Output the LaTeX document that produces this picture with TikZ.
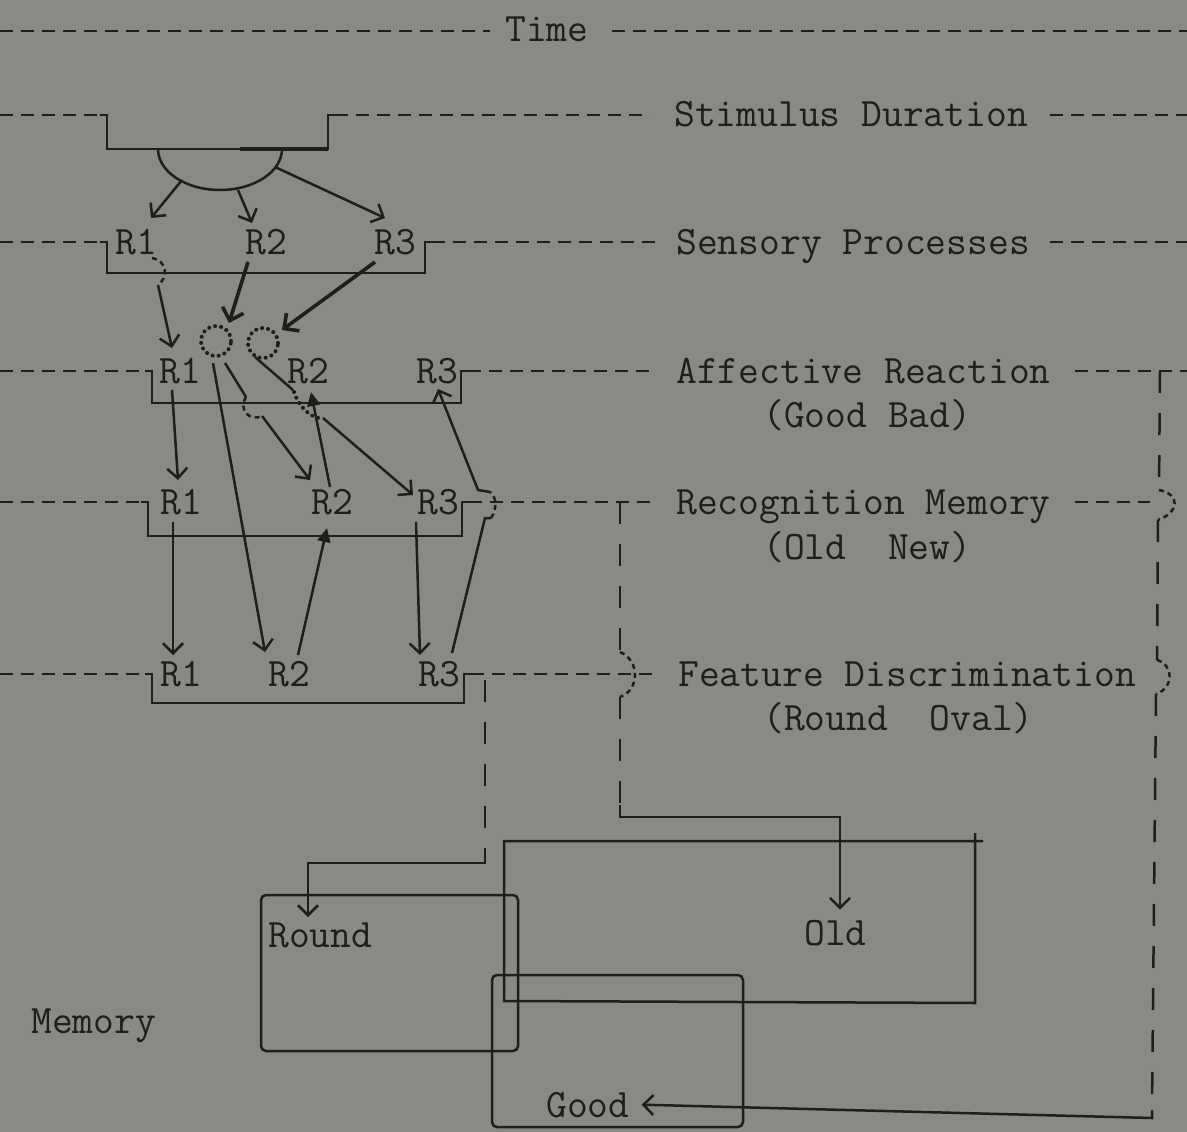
\documentclass[tikz,border=0pt]{standalone}
\usepackage{fontspec}
\usetikzlibrary{arrows.meta}

\definecolor{paper}{RGB}{139,137,133}
\definecolor{inkc}{RGB}{30,30,30}

\tikzset{
  ink/.style={draw=inkc, line width=2.5pt},
  typed/.style={ink, dash pattern=on 13pt off 8pt},
  vtyped/.style={ink, dash pattern=on 22pt off 20pt},
  hop/.style={ink, dash pattern=on 5pt off 4pt},
  dots/.style={ink, line width=4pt, dash pattern=on 0.1pt off 6pt, line cap=round},
  arr/.style={ink, -{Straight Barb[length=10pt,width=20pt]}},
  bigarr/.style={ink, line width=3.6pt, -{Straight Barb[length=11pt,width=22pt]}},
  farr/.style={ink, -{Triangle[length=14pt,width=13pt]}},
  lbl/.style={text=inkc, inner sep=0pt, anchor=base west,
    font=\ttfamily\fontsize{40.4pt}{46pt}\selectfont},
}

\begin{document}
\begin{tikzpicture}[x=1pt,y=-1pt]
  \fill[paper] (0,0) rectangle (1187,1132);
  \useasboundingbox (0,0) rectangle (1187,1132);

  % Time
  \draw[typed] (0,31) -- (490,31);
  \node[lbl] (time) at (505,42) {Time};
  \draw[typed] (612,31) -- (1187,31);

  % Stimulus Duration
  \draw[typed] (0,115) -- (100,115);
  \draw[ink] (100,115) -- (107,115) -- (107,149) -- (328,149) -- (328,115) -- (335,115);
  \draw[ink, line width=3.5pt] (240,149) -- (328,149);
  \draw[typed] (335,115) -- (650,115);
  \node[lbl] (stim) at (674,127) {Stimulus Duration};
  \draw[typed] (1050,115) -- (1187,115);
  \draw[ink] (158,149) arc[start angle=180, end angle=360, x radius=62pt, y radius=41pt];

  % Sensory Processes
  \draw[typed] (0,242) -- (100,242);
  \draw[ink] (100,242) -- (107,242) -- (107,273) -- (425,273) -- (425,242) -- (432,242);
  \draw[typed] (432,242) -- (662,242);
  \node[lbl] (sens) at (676,254) {Sensory Processes};
  \draw[typed] (1050,242) -- (1187,242);
  \node[lbl] (s1) at (115,254) {R1};
  \node[lbl] (s2) at (245,254) {R2};
  \node[lbl] (s3) at (374,254) {R3};

  % Affective Reaction
  \draw[typed] (0,371) -- (145,371);
  \draw[ink] (145,371) -- (152,371) -- (152,403) -- (461,403) -- (461,371) -- (468,371);
  \draw[typed] (468,371) -- (656,371);
  \node[lbl] (aff) at (676,383) {Affective Reaction};
  \node[lbl] (affsub) at (763,427) {(Good Bad)};
  \draw[typed] (1075,371) -- (1187,371);
  \node[lbl] (a1) at (159,383) {R1};
  \node[lbl] (a2) at (287,383) {R2};
  \node[lbl] (a3) at (416,383) {R3};

  % Recognition Memory
  \draw[typed] (0,502) -- (141,502);
  \draw[ink] (141,502) -- (148,502) -- (148,536) -- (462,536) -- (462,502) -- (469,502);
  \draw[typed] (469,502) -- (652,502);
  \node[lbl] (rec) at (676,514) {Recognition Memory};
  \node[lbl] (recsub) at (763,559) {(Old\ \ New)};
  \draw[typed] (1075,502) -- (1150,502);
  \node[lbl] (m1) at (160,514) {R1};
  \node[lbl] (m2) at (311,514) {R2};
  \node[lbl] (m3) at (417,514) {R3};

  % Feature Discrimination
  \draw[typed] (0,674) -- (145,674);
  \draw[ink] (145,674) -- (152,674) -- (152,703) -- (464,703) -- (464,674) -- (471,674);
  \draw[typed] (471,674) -- (652,674);
  \node[lbl] (feat) at (678,686) {Feature Discrimination};
  \node[lbl] (featsub) at (763,730) {(Round\ \ Oval)};
  \node[lbl] (f1) at (160,686) {R1};
  \node[lbl] (f2) at (268,686) {R2};
  \node[lbl] (f3) at (418,686) {R3};

  % memory boxes
  \draw[ink, rounded corners=5pt] (261,895) rectangle (518,1051);
  \draw[ink] (983,841) -- (504,841) -- (504,1001) -- (975,1003) -- (975,833);
  \draw[ink, rounded corners=5pt] (492,975) rectangle (743,1127);
  \node[lbl] (round) at (268,947) {Round};
  \node[lbl] (old) at (804,945) {Old};
  \node[lbl] (good) at (546,1117) {Good};
  \node[lbl] (memory) at (31,1033) {Memory};

  % dotted relay circles
  \node[circle, dots, minimum size=30pt, inner sep=0pt] (c1) at (216,341) {};
  \node[circle, dots, minimum size=30pt, inner sep=0pt] (c2) at (263,343) {};

  % connector ends
  \coordinate (semi1) at (182,180);
  \coordinate (semi2) at (238,190);
  \coordinate (semi3) at (275,167);
  \coordinate (s1top) at (151,218);
  \coordinate (s2top) at (252,223);
  \coordinate (s3top) at (385,218);
  \coordinate (s1out) at (158,285);
  \coordinate (a1top) at (172,348);
  \coordinate (s2out) at (248,262);
  \coordinate (c1in) at (229,323);
  \coordinate (s3out) at (375,262);
  \coordinate (c2in) at (282,330);
  \coordinate (a1out) at (172,390);
  \coordinate (m1top) at (178,480);
  \coordinate (c1outA) at (213,363);
  \coordinate (f2top) at (265,652);
  \coordinate (c1outB) at (225,363);
  \coordinate (m2top) at (310,480);
  \coordinate (c2out) at (255,357);
  \coordinate (m3left) at (413,495);
  \coordinate (m2up) at (330,487);
  \coordinate (a2low) at (311,392);
  \coordinate (m1out) at (173,522);
  \coordinate (f1top) at (173,655);
  \coordinate (f2up) at (298,655);
  \coordinate (m2low) at (327,528);
  \coordinate (m3out) at (416,522);
  \coordinate (f3top) at (420,655);
  \coordinate (f3up) at (452,653);
  \coordinate (a3low) at (438,389);

  % stimulus to sensory
  \draw[arr] (semi1) -- (s1top);
  \draw[arr] (semi2) -- (s2top);
  \draw[arr] (semi3) -- (s3top);

  % sensory to affective
  \draw[hop] (152,258) .. controls (168,261) and (168,278) .. (s1out);
  \draw[arr] (s1out) -- (a1top);
  \draw[bigarr] (s2out) -- (c1in);
  \draw[bigarr] (s3out) -- (c2in);

  % affective to recognition
  \draw[arr] (a1out) -- (m1top);
  \draw[arr] (c1outA) -- (f2top);
  \draw[ink] (c1outB) -- (246,397);
  \draw[hop] (246,397) .. controls (238,410) and (250,422) .. (262,416);
  \draw[arr] (262,416) -- (m2top);
  \draw[ink] (c2out) -- (293,390);
  \draw[dots] (294,392) .. controls (300,410) and (315,420) .. (323,418);
  \draw[arr] (323,418) -- (m3left);
  \draw[farr] (m2up) -- (a2low);

  % recognition to feature
  \draw[arr] (m1out) -- (f1top);
  \draw[farr] (f2up) -- (m2low);
  \draw[arr] (m3out) -- (f3top);
  \draw[ink] (f3up) -- (485,518) -- (491,518);
  \draw[hop] (491,518) .. controls (497,510) and (497,497) .. (490,492);
  \draw[arr] (490,492) -- (478,490) -- (a3low);

  % recognition to Old
  \draw[vtyped] (620,502) -- (620,652);
  \draw[hop] (620,652) .. controls (640,660) and (640,690) .. (620,697);
  \draw[vtyped] (620,697) -- (620,805);
  \draw[arr] (620,805) -- (620,817) -- (840,817) -- ([yshift=10pt]old.north -| 840,0);

  % feature to Round
  \draw[vtyped] (485,680) -- (485,858);
  \draw[arr] (485,858) -- (485,863) -- (308,863) -- (308,917);

  % affective to Good
  \draw[vtyped] (1160,371) -- (1159,490);
  \draw[hop] (1159,490) .. controls (1180,494) and (1180,512) .. (1158,520);
  \draw[vtyped] (1158,520) -- (1157,660);
  \draw[hop] (1157,660) .. controls (1174,665) and (1174,688) .. (1156,694);
  \draw[vtyped] (1156,694) -- (1152,1110);
  \draw[arr] (1152,1110) -- (1152,1118) -- ([xshift=12pt]good.east);
\end{tikzpicture}
\end{document}
